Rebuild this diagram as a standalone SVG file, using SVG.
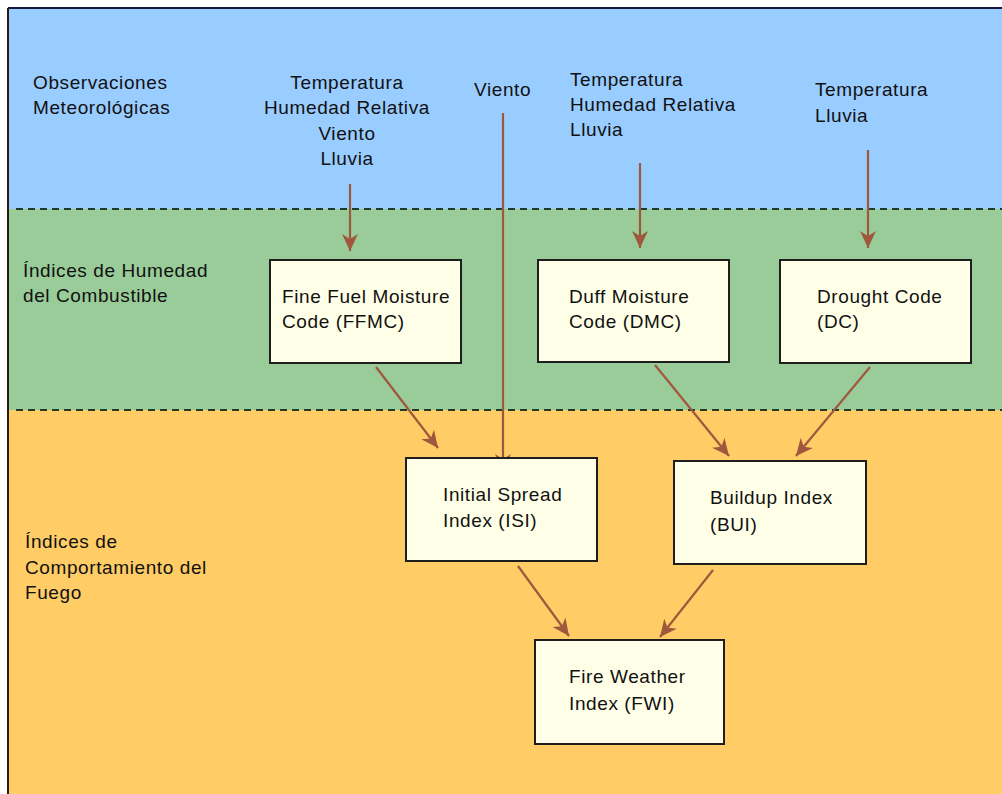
<svg xmlns="http://www.w3.org/2000/svg" width="1002" height="794" viewBox="0 0 1002 794">
  <style>
    text { font-family: "Liberation Sans", Arial, sans-serif; font-size: 19px; fill: #111; letter-spacing: 0.6px; }
    .box { fill: #FFFFE8; stroke: #1e1e1e; stroke-width: 2; }
    .sep { stroke: #1f3a26; stroke-width: 2; stroke-dasharray: 7 5; }
    .arrow { stroke: #A0583C; stroke-width: 2.2; fill: none; marker-end: url(#head); }
    .mid { text-anchor: middle; }
  </style>
  <defs>
    <marker id="head" markerUnits="userSpaceOnUse" markerWidth="20" markerHeight="18" refX="17" refY="8" orient="auto">
      <path d="M0,0 L17,8 L0,16 L5,8 Z" fill="#A0583C"/>
    </marker>
  </defs>

  <!-- page background and bands -->
  <rect x="0" y="0" width="1002" height="794" fill="#ffffff"/>
  <rect x="8" y="8" width="994" height="202" fill="#99CCFF"/>
  <rect x="8" y="209" width="994" height="202" fill="#99CC99"/>
  <rect x="8" y="410" width="994" height="384" fill="#FFCC66"/>
  <line x1="8" y1="8" x2="1002" y2="8" stroke="#14183a" stroke-width="2"/>
  <line x1="8" y1="8" x2="8" y2="794" stroke="#2a1a10" stroke-width="2"/>
  <line class="sep" x1="16" y1="209" x2="1002" y2="209"/>
  <line class="sep" x1="16" y1="410" x2="1002" y2="410"/>

  <!-- band labels -->
  <g id="label-observaciones">
    <text x="33" y="89">Observaciones</text>
    <text x="33" y="114">Meteorológicas</text>
  </g>
  <g id="label-humedad">
    <text x="23" y="277">Índices de Humedad</text>
    <text x="23" y="302">del Combustible</text>
  </g>
  <g id="label-comportamiento">
    <text x="25" y="548">Índices de</text>
    <text x="25" y="574">Comportamiento del</text>
    <text x="25" y="599">Fuego</text>
  </g>

  <!-- weather inputs -->
  <g id="input-ffmc">
    <text class="mid" x="347" y="89">Temperatura</text>
    <text class="mid" x="347" y="114">Humedad Relativa</text>
    <text class="mid" x="347" y="140">Viento</text>
    <text class="mid" x="347" y="165">Lluvia</text>
  </g>
  <g id="input-viento">
    <text x="474" y="96">Viento</text>
  </g>
  <g id="input-dmc">
    <text x="570" y="86">Temperatura</text>
    <text x="570" y="111">Humedad Relativa</text>
    <text x="570" y="136">Lluvia</text>
  </g>
  <g id="input-dc">
    <text x="815" y="96">Temperatura</text>
    <text x="815" y="122">Lluvia</text>
  </g>

  <!-- connectors -->
  <g id="connectors">
    <line class="arrow" x1="350" y1="184" x2="350" y2="251"/>
    <line class="arrow" x1="503" y1="113" x2="503" y2="471"/>
    <line class="arrow" x1="640" y1="163" x2="640" y2="248"/>
    <line class="arrow" x1="868" y1="150" x2="868" y2="248"/>
    <line class="arrow" x1="376" y1="367" x2="438" y2="448"/>
    <line class="arrow" x1="655" y1="365" x2="729" y2="456"/>
    <line class="arrow" x1="870" y1="367" x2="796" y2="456"/>
    <line class="arrow" x1="518" y1="566" x2="569" y2="636"/>
    <line class="arrow" x1="713" y1="570" x2="660" y2="637"/>
  </g>

  <!-- index boxes -->
  <g id="ffmc">
    <rect class="box" x="270" y="260" width="191" height="103"/>
    <text x="282" y="303">Fine Fuel Moisture</text>
    <text x="282" y="328">Code (FFMC)</text>
  </g>
  <g id="dmc">
    <rect class="box" x="538" y="260" width="191" height="102"/>
    <text x="569" y="303">Duff Moisture</text>
    <text x="569" y="328">Code (DMC)</text>
  </g>
  <g id="dc">
    <rect class="box" x="780" y="260" width="191" height="103"/>
    <text x="817" y="303">Drought Code</text>
    <text x="817" y="328">(DC)</text>
  </g>
  <g id="isi">
    <rect class="box" x="406" y="458" width="191" height="103"/>
    <text x="443" y="501">Initial Spread</text>
    <text x="443" y="527">Index (ISI)</text>
  </g>
  <g id="bui">
    <rect class="box" x="674" y="461" width="192" height="103"/>
    <text x="710" y="504">Buildup Index</text>
    <text x="710" y="531">(BUI)</text>
  </g>
  <g id="fwi">
    <rect class="box" x="535" y="640" width="189" height="104"/>
    <text x="569" y="683">Fire Weather</text>
    <text x="569" y="710">Index (FWI)</text>
  </g>
</svg>
